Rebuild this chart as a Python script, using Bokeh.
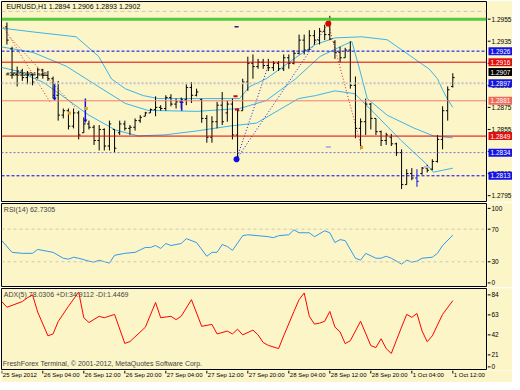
from bokeh.plotting import figure
from bokeh.layouts import column, row
from bokeh.models import Range1d, Span, Label, ColumnDataSource
from bokeh.embed import file_html
from bokeh.resources import INLINE
from bokeh.core.properties import value

FONT = "Liberation Sans"
BG = "#FBF5C8"

# ---------------- data (EURUSD H1, bar 0 = 25 Sep 21:00) ----------------
bar_idx = list(range(88))
opens = [1.2948, 1.2928, 1.2905, 1.2908, 1.2902, 1.2905, 1.2902, 1.2909, 1.2904, 1.2901,
         1.2886, 1.2868, 1.2872, 1.2858, 1.2870, 1.2852, 1.2860, 1.2857, 1.2845, 1.2855,
         1.2840, 1.2855, 1.2852, 1.2860, 1.2856, 1.2857, 1.2863, 1.2867, 1.2870, 1.2873,
         1.2875, 1.2874, 1.2884, 1.2878, 1.2880, 1.2882, 1.2893, 1.2886, 1.2882, 1.2865,
         1.2848, 1.2862, 1.2877, 1.2870, 1.2878, 1.2850, 1.2872, 1.2898, 1.2915, 1.2912,
         1.2916, 1.2913, 1.2911, 1.2915, 1.2910, 1.2920, 1.2915, 1.2924, 1.2936, 1.2927,
         1.2940, 1.2936, 1.2944, 1.2941, 1.2934, 1.2925, 1.2920, 1.2927, 1.2895, 1.2856,
         1.2862, 1.2878, 1.2865, 1.2853, 1.2845, 1.2848, 1.2842, 1.2834, 1.2805, 1.2815,
         1.2811, 1.2815, 1.2820, 1.2819, 1.2826, 1.2846, 1.2872, 1.2894]
highs = [1.2952, 1.2930, 1.2912, 1.2910, 1.2908, 1.2905, 1.2911, 1.2910, 1.2908, 1.2903,
         1.2899, 1.2874, 1.2874, 1.2874, 1.2872, 1.2866, 1.2863, 1.2859, 1.2859, 1.2856,
         1.2863, 1.2855, 1.2863, 1.2863, 1.2859, 1.2865, 1.2868, 1.2871, 1.2874, 1.2885,
         1.2877, 1.2886, 1.2887, 1.2883, 1.2884, 1.2896, 1.2898, 1.2892, 1.2883, 1.2868,
         1.2867, 1.2880, 1.2889, 1.2881, 1.2883, 1.2874, 1.2901, 1.2921, 1.2923, 1.2919,
         1.2919, 1.2919, 1.2917, 1.2917, 1.2923, 1.2923, 1.2927, 1.2941, 1.2941, 1.2945,
         1.2945, 1.2947, 1.2950, 1.2958, 1.2936, 1.2930, 1.2929, 1.2935, 1.2903, 1.2865,
         1.2883, 1.2879, 1.2865, 1.2854, 1.2852, 1.2851, 1.2843, 1.2837, 1.2819, 1.2820,
         1.2819, 1.2821, 1.2823, 1.2828, 1.2850, 1.2876, 1.2894, 1.2906]
lows = [1.2932, 1.2901, 1.2894, 1.2899, 1.2896, 1.2895, 1.2901, 1.2901, 1.2899, 1.2883,
        1.2863, 1.2865, 1.2855, 1.2856, 1.2846, 1.2852, 1.2855, 1.2841, 1.2836, 1.2836,
        1.2836, 1.2834, 1.2850, 1.2854, 1.2850, 1.2854, 1.2861, 1.2867, 1.2870, 1.2867,
        1.2872, 1.2872, 1.2876, 1.2874, 1.2874, 1.2877, 1.2879, 1.2885, 1.2861, 1.2843,
        1.2843, 1.2856, 1.2859, 1.2862, 1.2846, 1.2828, 1.2872, 1.2890, 1.2901, 1.2910,
        1.2910, 1.2908, 1.2908, 1.2908, 1.2908, 1.2910, 1.2914, 1.2923, 1.2923, 1.2927,
        1.2932, 1.2932, 1.2936, 1.2936, 1.2919, 1.2916, 1.2920, 1.2892, 1.2847, 1.2837,
        1.2850, 1.2855, 1.2850, 1.2840, 1.2841, 1.2840, 1.2831, 1.2801, 1.2805, 1.2809,
        1.2803, 1.2814, 1.2816, 1.2818, 1.2825, 1.2837, 1.2863, 1.2893]
closes = [1.2936, 1.2905, 1.2908, 1.2902, 1.2905, 1.2898, 1.2909, 1.2904, 1.2901, 1.2886,
          1.2868, 1.2872, 1.2858, 1.2870, 1.2850, 1.2860, 1.2857, 1.2845, 1.2855, 1.2840,
          1.2860, 1.2838, 1.2860, 1.2856, 1.2857, 1.2863, 1.2866, 1.2870, 1.2873, 1.2875,
          1.2874, 1.2884, 1.2878, 1.2880, 1.2882, 1.2893, 1.2886, 1.2889, 1.2865, 1.2848,
          1.2862, 1.2877, 1.2862, 1.2878, 1.2850, 1.2872, 1.2898, 1.2915, 1.2912, 1.2916,
          1.2913, 1.2911, 1.2915, 1.2910, 1.2920, 1.2915, 1.2924, 1.2936, 1.2927, 1.2940,
          1.2936, 1.2944, 1.2941, 1.2937, 1.2925, 1.2920, 1.2927, 1.2895, 1.2856, 1.2862,
          1.2878, 1.2865, 1.2853, 1.2845, 1.2850, 1.2842, 1.2834, 1.2805, 1.2815, 1.2811,
          1.2808, 1.2820, 1.2818, 1.2826, 1.2846, 1.2872, 1.2891, 1.2902]
blue_bars = [80]

# trade arrows (bar position, from price, to price)
arrow_x = [9.3, 15.3, 34.1]
arrow_y0 = [1.2897, 1.2883, 1.2872]
arrow_y1 = [1.2883, 1.2863, 1.2880]

# three light-blue indicator curves (bar position, price)
band_up_x = [-1.2, 5.1, 13.5, 17.9, 20.4, 23.1, 26.6, 29.5, 45.4, 47.3, 50.6, 56.3, 60.2, 64.0, 69.2, 74.2, 82.4,
             84.0, 85.0, 86.0, 87.0]
band_up_y = [1.2947, 1.29434, 1.2939, 1.29212, 1.29008, 1.28919, 1.28857, 1.2883, 1.2883, 1.28937, 1.2901, 1.2920,
             1.2932, 1.2938, 1.2939, 1.29363, 1.29097, 1.2901, 1.2891, 1.2882, 1.2875]
band_mid_x = [-1.2, 5.1, 11.6, 17.9, 23.1, 27.5, 37.1, 45.4, 50.6, 56.3, 61.1, 65.9, 67.3, 68.8, 70.3, 74.2, 79.4,
              83.2, 87.0]
band_mid_y = [1.2930, 1.29248, 1.29123, 1.28937, 1.28786, 1.28723, 1.28714, 1.2874, 1.28812, 1.29008, 1.29212,
              1.29319, 1.29346, 1.29097, 1.2883, 1.28679, 1.28563, 1.28492, 1.28474]
band_lo_x = [-1.2, 2.0, 7.0, 9.7, 16.0, 21.2, 25.6, 30.8, 37.1, 43.5, 48.7, 56.9, 60.2, 64.0, 67.9, 71.7, 76.9,
             81.9, 83.2, 87.0]
band_lo_y = [1.29114, 1.29079, 1.2898, 1.28892, 1.28679, 1.28545, 1.28492, 1.28501, 1.28537, 1.28581, 1.28608,
             1.2883, 1.28857, 1.2890, 1.28874, 1.28697, 1.2845, 1.28234, 1.28163, 1.28199]

# horizontal levels
lvl_green = 1.2955
lvl_gray_top = 1.2962
lvl_blue_hi = 1.2926
lvl_red_hi = 1.2916
lvl_gray_dot = 1.2897
lvl_salmon = 1.2881
lvl_red_lo = 1.2849
lvl_purple = 1.2834
lvl_blue_lo = 1.2813

price_ticks = [1.2955, 1.2935, 1.2915, 1.2895, 1.2875, 1.2855, 1.2835, 1.2815, 1.2795]
box_prices = [1.2926, 1.2916, 1.2881, 1.2849, 1.2834, 1.2813, 1.2907, 1.2897]
box_colors = ["#1414E6", "#E01010", "#EE6A5A", "#E01010", "#1414E6", "#1414E6", "#000000", "#1414E6"]

rsi_x = [-1, 1, 3, 5, 6, 8, 9, 11, 12, 13, 14, 16, 17, 18, 20, 21, 23, 25, 27, 28, 29, 30, 31, 32, 34, 35, 37, 39,
         40, 41, 42, 43, 44, 46, 47, 49, 51, 52, 53, 55, 56, 57, 59, 60, 62, 63, 64, 65, 66, 68, 69, 70, 72, 73,
         74, 75, 77, 78, 79, 80, 81, 83, 84, 85, 87]
rsi_y = [56, 41.6, 40.4, 40.4, 45.2, 42.8, 41.6, 34.4, 33.2, 35.6, 34.4, 30.8, 29.6, 32, 28.4, 38, 40.4, 41.6, 47.6,
         47.6, 50, 46.4, 52.4, 50, 52.4, 58.4, 53.6, 36.8, 41.6, 41.6, 51.2, 48.8, 44, 62, 63.2, 62, 60.8, 59.6, 62,
         63.2, 69.2, 65.6, 65.6, 60.8, 68, 65.6, 53.6, 57.2, 56, 34.4, 32, 40.4, 34.4, 34.4, 36.8, 34.4, 27.2, 32,
         29.6, 30.8, 34.4, 35.6, 40.4, 50, 62.7]
rsi_levels = [70, 30]
rsi_tick_labels = ["100", "70", "30", "0"]
rsi_tick_vals = [95.5, 70, 30, 4.1]

adx_x = [-1, 0, 3, 4, 5, 6, 8, 9, 10, 12, 14, 15, 16, 18, 19, 21, 23, 24, 27, 29, 30, 32, 33, 34, 36, 38, 40, 41,
         43, 44, 45, 46, 48, 49, 50, 51, 53, 54, 56, 57, 58, 59, 60, 61, 62, 63, 64, 65, 66, 67, 69, 71, 72, 73,
         74, 75, 77, 78, 79, 80, 81, 82, 83, 85, 87]
adx_y = [77, 71, 77, 81, 84, 66, 41, 43, 56, 72, 87, 60, 55, 61.5, 60, 63.5, 33, 35, 50, 76, 60, 61.5, 58, 61.5, 79,
         51, 53, 43, 46, 43, 48, 42, 47, 42, 34, 31, 27.6, 41, 66.6, 79, 86, 61.5, 53.3, 54.3, 56.3, 66.6, 50.2,
         45.1, 32.8, 35.9, 56.3, 30.7, 28.7, 37.9, 27.6, 22.5, 50.2, 63.5, 60.4, 64.5, 46.1, 34.8, 41, 63.5, 78.0]
adx_tick_labels = ["84", "63", "42", "21", "0"]
adx_tick_vals = [84, 63, 42, 21, 8.4]

time_ticks = [-1, 7, 15, 23, 31, 39, 47, 55, 63, 71, 79, 87]
time_labels = ["25 Sep 2012", "26 Sep 04:00", "26 Sep 12:00", "26 Sep 20:00", "27 Sep 04:00", "27 Sep 12:00",
               "27 Sep 20:00", "28 Sep 04:00", "28 Sep 12:00", "28 Sep 20:00", "1 Oct 04:00", "1 Oct 12:00"]

sell_star = (62.7, 1.2951)
buy_star = (44.8, 1.2828)
close_mark = (69.2, 1.28386)
target_mark = (51.0, 1.2913)
orange_marks_x = [12.2, 15.5]
orange_marks_y = [1.2870, 1.2874]
red_dash_x = [44.6, 44.9]
red_dash_y = [1.2885, 1.2873]
lav_dash_x = [62.7, 81.9]
lav_dash_y = [1.2839, 1.2821]
navy_dash = (44.8, 1.2948)

# ---------------- figures ----------------
X0, X1 = -1.06, 93.57
xr = Range1d(X0, X1)
P_LO, P_HI = 1.27897, 1.29710
RSI_LO, RSI_HI = -1.5, 101.5
ADX_LO, ADX_HI = 4.6, 90.7
FS = "7px"
AFS = "6.5px"


def panel(h, yr, top=1, bottom=1):
    f = figure(width=487, height=h, x_range=xr, y_range=yr, output_backend="svg", toolbar_location=None,
               x_axis_location=None, y_axis_location=None, min_border_left=1, min_border_right=1,
               min_border_top=top, min_border_bottom=bottom, background_fill_color=BG, border_fill_color=BG,
               outline_line_color="#000000", outline_line_width=1)
    f.grid.visible = False
    return f


def side(h, yr, top=1, bottom=1):
    f = figure(width=25, height=h, x_range=Range1d(0, 25), y_range=yr, output_backend="svg",
               toolbar_location=None, x_axis_location=None, y_axis_location=None, min_border_left=0,
               min_border_right=0, min_border_top=top, min_border_bottom=bottom, background_fill_color=BG,
               border_fill_color=BG, outline_line_color=None)
    f.grid.visible = False
    return f


def side_ticks(f, vals, labels):
    f.segment(x0=[0] * len(vals), y0=vals, x1=[3] * len(vals), y1=vals, line_color="#000000")
    f.text(x=[4] * len(vals), y=vals, text=labels, text_font=value(FONT), text_font_size=AFS,
           text_baseline="middle", text_align="left", text_color="#000000")


# ---- main panel
pyr = Range1d(P_LO, P_HI)
p = panel(202, pyr)
for loc, col, w, dash in [(lvl_gray_top, "#C8C8C0", 1, "4 3"), (lvl_green, "#55C83C", 3, "solid"),
                          (lvl_blue_hi, "#0000FF", 1, "3 2"), (lvl_red_hi, "#DD0000", 1, "solid"),
                          (lvl_gray_dot, "#C4C0D0", 2, "2 2"), (lvl_salmon, "#F08070", 1, "solid"),
                          (lvl_red_lo, "#DD0000", 1, "solid"), (lvl_purple, "#7070C8", 1, "2 2"),
                          (lvl_blue_lo, "#0000FF", 1, "3 2")]:
    p.add_layout(Span(location=loc, dimension="width", line_color=col, line_width=w, line_dash=dash))

for bx, by in [(band_up_x, band_up_y), (band_mid_x, band_mid_y), (band_lo_x, band_lo_y)]:
    p.line(bx, by, line_color="#3CB4EA", line_width=1)

p.line([-0.7, 8.4], [1.2948, 1.2880], line_color="#E03020", line_dash="1 2", line_width=1)
p.line([0.7, 13.5], [1.2938, 1.2874], line_color="#E03020", line_dash="1 2", line_width=1)
p.line([buy_star[0], sell_star[0]], [buy_star[1], sell_star[1]], line_color="#2020E0", line_dash="1 2")
p.line([buy_star[0], target_mark[0]], [buy_star[1], target_mark[1]], line_color="#2020E0", line_dash="1 2")
p.line([sell_star[0], close_mark[0]], [sell_star[1], close_mark[1]], line_color="#E02020", line_dash="1 2")

colors = ["#1010E0" if i in blue_bars else "#000000" for i in bar_idx]
src = ColumnDataSource(dict(x=bar_idx, o=opens, h=highs, l=lows, c=closes, col=colors,
                            xl=[i - 0.35 for i in bar_idx], xr=[i + 0.35 for i in bar_idx]))
p.segment(x0="x", y0="l", x1="x", y1="h", source=src, line_color="col", line_width=1)
p.segment(x0="xl", y0="o", x1="x", y1="o", source=src, line_color="col", line_width=1)
p.segment(x0="x", y0="c", x1="xr", y1="c", source=src, line_color="col", line_width=1)

p.segment(x0=arrow_x, y0=arrow_y0, x1=arrow_x, y1=arrow_y1, line_color="#1010E0", line_width=1.5)
p.scatter(arrow_x, arrow_y1, marker="triangle", size=4, fill_color="#1010E0", line_color=None,
          angle=[3.1416 if a < b else 0 for a, b in zip(arrow_y1, arrow_y0)])

p.scatter([sell_star[0]], [sell_star[1]], marker="asterisk", size=6, line_color="#E00000", line_width=2)
p.scatter([buy_star[0]], [buy_star[1]], marker="asterisk", size=6, line_color="#1010E0", line_width=2)
p.scatter([close_mark[0]], [close_mark[1]], marker="square", size=3, fill_color="#E8A020", line_color=None)
p.scatter(orange_marks_x, orange_marks_y, marker="square", size=3, fill_color="#E8A020", line_color=None)
p.segment(x0=[x - 0.4 for x in red_dash_x], y0=red_dash_y, x1=[x + 0.4 for x in red_dash_x], y1=red_dash_y,
          line_color="#E00000", line_width=2)
p.segment(x0=[x - 0.5 for x in lav_dash_x], y0=lav_dash_y, x1=[x + 0.5 for x in lav_dash_x], y1=lav_dash_y,
          line_color="#B8B8E0", line_width=2)
p.segment(x0=[navy_dash[0] - 0.4], y0=[navy_dash[1]], x1=[navy_dash[0] + 0.4], y1=[navy_dash[1]],
          line_color="#202080", line_width=1.5)

p.add_layout(Label(x=-0.1, y=1.29666, text="EURUSD,H1  1.2894 1.2906 1.2893 1.2902", text_font=FONT,
                   text_font_size=FS, text_baseline="middle", text_color="#000000"))
p.add_layout(Label(x=-0.2, y=1.2905, text="#18090094 sell", text_font=FONT,
                   text_font_size="6px", text_baseline="middle", text_color="#000000"))

ps = side(202, pyr)
side_ticks(ps, price_ticks, [f"{v:.4f}" for v in price_ticks])
ps.rect(x=[13] * len(box_prices), y=box_prices, width=24, height=8, height_units="screen",
        fill_color=box_colors, line_color=None)
ps.text(x=[3] * len(box_prices), y=box_prices, text=[f"{v:.4f}" for v in box_prices], text_font=value(FONT),
        text_font_size=AFS, text_baseline="middle", text_align="left", text_color="#FFFFFF")

# ---- RSI panel
ryr = Range1d(RSI_LO, RSI_HI)
r = panel(85, ryr, top=1, bottom=0)
for lv in rsi_levels:
    r.add_layout(Span(location=lv, dimension="width", line_color="#D2C8A8", line_width=1, line_dash="3 3"))
r.line(rsi_x, rsi_y, line_color="#3399EE", line_width=1)
r.add_layout(Label(x=-0.6, y=94, text="RSI(14) 62.7305", text_font=FONT, text_font_size=FS,
                   text_baseline="middle"))
rs = side(85, ryr, top=1, bottom=0)
side_ticks(rs, rsi_tick_vals, rsi_tick_labels)

# ---- ADX panel
ayr = Range1d(ADX_LO, ADX_HI)
a = panel(83, ayr, top=1, bottom=0)
a.line(adx_x, adx_y, line_color="#FF0000", line_width=1)
a.add_layout(Label(x=-0.6, y=84, text="ADX(5) 78.0306 +DI:34.9112 -DI:1.4469", text_font=FONT,
                   text_font_size=FS, text_baseline="middle"))
a.add_layout(Label(x=-0.8, y=11.6, text="FreshForex Terminal, \u00a9 2001-2012, MetaQuotes Software Corp.",
                   text_font=FONT, text_font_size=FS, text_baseline="middle"))
As = side(83, ayr, top=1, bottom=0)
side_ticks(As, adx_tick_vals, adx_tick_labels)

# ---- time axis strip
t = figure(width=512, height=12, x_range=Range1d(X0, X0 + (X1 - X0) * 511 / 485), y_range=Range1d(0, 12),
           output_backend="svg", toolbar_location=None, x_axis_location=None, y_axis_location=None,
           min_border_left=1, min_border_right=0, min_border_top=0, min_border_bottom=0,
           background_fill_color=BG, border_fill_color=BG, outline_line_color=None)
t.grid.visible = False
t.segment(x0=time_ticks, y0=[12] * len(time_ticks), x1=time_ticks, y1=[9] * len(time_ticks),
          line_color="#000000", line_width=1)
t.text(x=time_ticks, y=[11] * len(time_ticks), text=time_labels, text_font=value(FONT), text_font_size="6px",
       text_baseline="top", text_align="left", x_offset=1, text_color="#000000")

layout = column(row(p, ps, spacing=0), row(r, rs, spacing=0), row(a, As, spacing=0), t, spacing=0)
open("out.html", "w").write(file_html(layout, INLINE))
